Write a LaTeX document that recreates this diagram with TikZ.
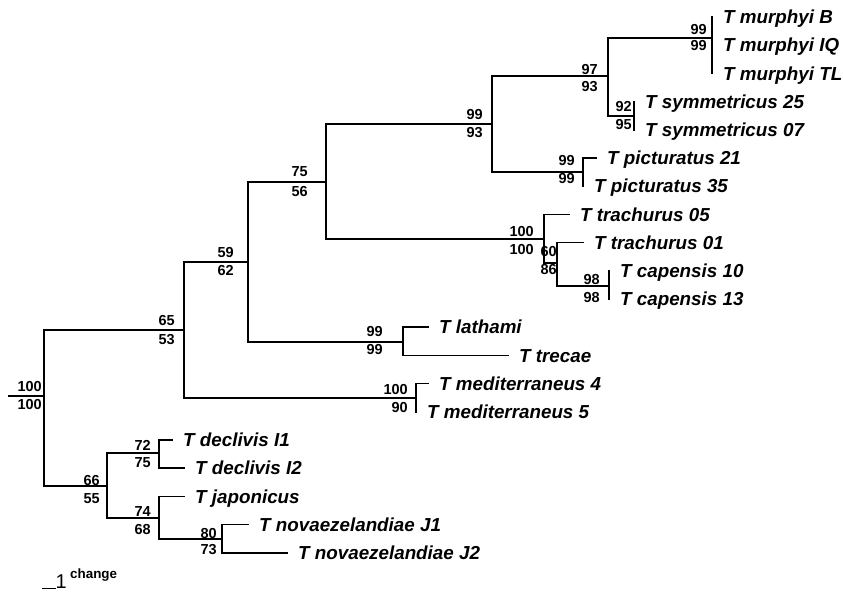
\documentclass[tikz,border=0pt]{standalone}
\usepackage{fontspec}
\setmainfont{Liberation Sans}
\usetikzlibrary{calc}

\tikzset{
  branch/.style={line width=1.6pt, line cap=rect},
  taxon/.style={anchor=base west, inner sep=0pt, xshift=11pt, yshift=-6.7pt,
    font=\fontsize{18.8}{20}\selectfont\bfseries\itshape},
  support/.style={anchor=east, inner sep=0pt,
    font=\fontsize{14.5}{16}\selectfont\bfseries},
}

\begin{document}
\begin{tikzpicture}[x=1pt,y=-1pt]
\useasboundingbox (0,0) rectangle (843,592);

% ---- internal nodes ----
\coordinate (base) at (9,396);
\coordinate (root) at (44,396);
\coordinate (n65)  at (184,330);
\coordinate (n59)  at (248,262);
\coordinate (n75)  at (326,182);
\coordinate (n99)  at (492,124);
\coordinate (n97)  at (608,76);
\coordinate (nMur) at (712,38);
\coordinate (nSym) at (634,116);
\coordinate (nPic) at (583,172);
\coordinate (nTra) at (544,239);
\coordinate (n60)  at (557,263);
\coordinate (nCap) at (609,286);
\coordinate (nLat) at (403,342);
\coordinate (nMed) at (416,398);
\coordinate (n66)  at (107,486);
\coordinate (nDec) at (159,453);
\coordinate (nJap) at (159,518);
\coordinate (nNov) at (222,539);

% ---- tips ----
\coordinate (tB)   at (712,17);
\coordinate (tIQ)  at (712,45.2);
\coordinate (tTL)  at (712,73.4);
\coordinate (t25)  at (634,101.6);
\coordinate (t07)  at (634,129.8);
\coordinate (t21)  at (596,158);
\coordinate (t35)  at (583,186.2);
\coordinate (t05)  at (569,214.4);
\coordinate (t01)  at (583,242.6);
\coordinate (t10)  at (609,270.8);
\coordinate (t13)  at (609,299);
\coordinate (tLat) at (428,327.2);
\coordinate (tTre) at (508,355.4);
\coordinate (tM4)  at (428,383.6);
\coordinate (tM5)  at (416,411.8);
\coordinate (tI1)  at (172,440);
\coordinate (tI2)  at (184,468.2);
\coordinate (tJap) at (184,496.4);
\coordinate (tJ1)  at (248,524.6);
\coordinate (tJ2)  at (287,552.8);

% ---- branches ----
\draw[branch] (base) -- (root);
\draw[branch] (root) |- (n65);
\draw[branch] (root) |- (n66);
\draw[branch] (n65) |- (n59);
\draw[branch] (n65) |- (nMed);
\draw[branch] (n59) |- (n75);
\draw[branch] (n59) |- (nLat);
\draw[branch] (n75) |- (n99);
\draw[branch] (n75) |- (nTra);
\draw[branch] (n99) |- (n97);
\draw[branch] (n99) |- (nPic);
\draw[branch] (n97) |- (nMur);
\draw[branch] (n97) |- (nSym);
\draw[branch] (nMur) |- (tB);
\draw[branch] (nMur) |- (tIQ);
\draw[branch] (nMur) |- (tTL);
\draw[branch] (nSym) |- (t25);
\draw[branch] (nSym) |- (t07);
\draw[branch] (nPic) |- (t21);
\draw[branch] (nPic) |- (t35);
\draw[branch] (nTra) |- (t05);
\draw[branch] (nTra) |- (n60);
\draw[branch] (n60) |- (t01);
\draw[branch] (n60) |- (nCap);
\draw[branch] (nCap) |- (t10);
\draw[branch] (nCap) |- (t13);
\draw[branch] (nLat) |- (tLat);
\draw[branch] (nLat) |- (tTre);
\draw[branch] (nMed) |- (tM4);
\draw[branch] (nMed) |- (tM5);
\draw[branch] (n66) |- (nDec);
\draw[branch] (n66) |- (nJap);
\draw[branch] (nDec) |- (tI1);
\draw[branch] (nDec) |- (tI2);
\draw[branch] (nJap) |- (tJap);
\draw[branch] (nJap) |- (nNov);
\draw[branch] (nNov) |- (tJ1);
\draw[branch] (nNov) |- (tJ2);

% ---- taxon names ----
\node[taxon] (lB)   at (tB)   {T murphyi B};
\node[taxon] (lIQ)  at (tIQ)  {T murphyi IQ};
\node[taxon] (lTL)  at (tTL)  {T murphyi TL};
\node[taxon] (l25)  at (t25)  {T symmetricus 25};
\node[taxon] (l07)  at (t07)  {T symmetricus 07};
\node[taxon] (l21)  at (t21)  {T picturatus 21};
\node[taxon] (l35)  at (t35)  {T picturatus 35};
\node[taxon] (l05)  at (t05)  {T trachurus 05};
\node[taxon] (l01)  at (t01)  {T trachurus 01};
\node[taxon] (l10)  at (t10)  {T capensis 10};
\node[taxon] (l13)  at (t13)  {T capensis 13};
\node[taxon] (lLat) at (tLat) {T lathami};
\node[taxon] (lTre) at (tTre) {T trecae};
\node[taxon] (lM4)  at (tM4)  {T mediterraneus 4};
\node[taxon] (lM5)  at (tM5)  {T mediterraneus 5};
\node[taxon] (lI1)  at (tI1)  {T declivis I1};
\node[taxon] (lI2)  at (tI2)  {T declivis I2};
\node[taxon] (lJap) at (tJap) {T japonicus};
\node[taxon] (lJ1)  at (tJ1)  {T novaezelandiae J1};
\node[taxon] (lJ2)  at (tJ2)  {T novaezelandiae J2};

% ---- support values (upper / lower) ----
\node[support] (sRa) at (42,387) {100};
\node[support] (sRb) at (42,405) {100};
\node[support] (s65a) at (175,321) {65};
\node[support] (s65b) at (175,340) {53};
\node[support] (s59a) at (234,253) {59};
\node[support] (s59b) at (234,271) {62};
\node[support] (s75a) at (308,172) {75};
\node[support] (s75b) at (308,192) {56};
\node[support] (s99a) at (483,115) {99};
\node[support] (s99b) at (483,133) {93};
\node[support] (s97a) at (598,70) {97};
\node[support] (s97b) at (598,87) {93};
\node[support] (sMa) at (707,30) {99};
\node[support] (sMb) at (707,46) {99};
\node[support] (sSa) at (632,107) {92};
\node[support] (sSb) at (632,125) {95};
\node[support] (sPa) at (575,161) {99};
\node[support] (sPb) at (575,179) {99};
\node[support] (sTa) at (534,232) {100};
\node[support] (sTb) at (534,250) {100};
\node[support] (s60a) at (557,252) {60};
\node[support] (s60b) at (557,270) {86};
\node[support] (sCa) at (600,280) {98};
\node[support] (sCb) at (600,298) {98};
\node[support] (sLa) at (383,332) {99};
\node[support] (sLb) at (383,350) {99};
\node[support] (sMea) at (408,390) {100};
\node[support] (sMeb) at (408,408) {90};
\node[support] (s66a) at (100,480) {66};
\node[support] (s66b) at (100,499) {55};
\node[support] (sDa) at (151,445) {72};
\node[support] (sDb) at (151,463) {75};
\node[support] (sJa) at (151,512) {74};
\node[support] (sJb) at (151,529) {68};
\node[support] (sNa) at (217,533) {80};
\node[support] (sNb) at (217,550) {73};

% ---- scale bar ----
\coordinate (sb0) at (43,588.5);
\coordinate (sb1) at (55,588.5);
\draw[branch] (sb0) -- (sb1);
\node[anchor=base west, inner sep=0pt, font=\fontsize{20}{22}\selectfont] (sbn) at (55.5,588) {1};
\node[anchor=base west, inner sep=0pt, font=\fontsize{13.4}{15}\selectfont\bfseries] (sbu) at (70,578) {change};
\end{tikzpicture}
\end{document}
